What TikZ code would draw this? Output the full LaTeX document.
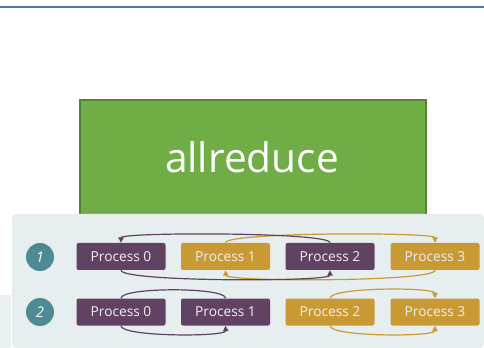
\documentclass[tikz,border=0pt]{standalone}
\usepackage{fontspec}
\setmainfont{Open Sans}
\usepackage{tikz}
\usetikzlibrary{arrows.meta}
\usepackage{xcolor}

\definecolor{procpurple}{RGB}{97,66,99}
\definecolor{procgold}{RGB}{201,154,52}
\definecolor{numteal}{RGB}{78,138,147}
\definecolor{panelgray}{RGB}{230,238,240}
\definecolor{boxgreen}{RGB}{112,173,71}
\definecolor{boxgreenline}{RGB}{84,130,53}
\definecolor{ruleblue}{RGB}{74,120,168}

\tikzset{
  proc/.style={rectangle, rounded corners=1.5pt, minimum width=66.75pt, minimum height=20.25pt,
    text=white!94!black, font=\fontsize{10.3}{12}\selectfont, inner sep=0pt},
  procp/.style={proc, fill=procpurple},
  procg/.style={proc, fill=procgold},
  num/.style={circle, fill=numteal, minimum size=21pt, inner sep=0pt,
    text=white, font=\fontsize{11}{12}\selectfont\itshape},
  arcp/.style={draw=procpurple, line width=0.9pt},
  arcg/.style={draw=procgold, line width=0.9pt},
  tip/.style={-{Triangle[length=4pt,width=4pt]}}
}

\begin{document}
\begin{tikzpicture}[x=0.75pt,y=-0.75pt]
\useasboundingbox (0,0) rectangle (484,348);
% top rule and title box
\draw[ruleblue, line width=1.6pt] (0,7) -- (484,7);
\node[rectangle, fill=boxgreen, draw=boxgreenline, line width=1.2pt,
  minimum width=259.5pt, minimum height=97.5pt, anchor=north west, inner sep=0pt] (title) at (79,99) {};
\node[text=white, font=\fontsize{30.5}{32}\selectfont] (titletext) at (252,157) {allreduce};

% light panels
\fill[panelgray!80!white] (0,295) rectangle (11,348);
\fill[panelgray, rounded corners=3pt] (12,348) -- (12,214) -- (484,214) -- (484,348) -- cycle;

% step numbers
\node[num] (n1) at (40,257) {1};
\node[num] (n2) at (40,312) {2};

% row 1
\node[procp] (a0) at (121,256.5) {Process 0};
\node[procg] (a1) at (225.5,256.5) {Process 1};
\node[procp] (a2) at (330,256.5) {Process 2};
\node[procg] (a3) at (435,256.5) {Process 3};

\draw[arcg, tip] (a1.north) .. controls (226,232) and (435,232) .. (a3.north);
\draw[arcg, tip] (a3.south) .. controls (435,282) and (226,282) .. (a1.south);
\draw[arcp, tip] (a2.north) .. controls (330,232) and (121,232) .. (a0.north);
\draw[arcp, tip] (a0.south) .. controls (121,282) and (330,282) .. (a2.south);

% row 2
\node[procp] (b0) at (121,312) {Process 0};
\node[procp] (b1) at (225.5,312) {Process 1};
\node[procg] (b2) at (330,312) {Process 2};
\node[procg] (b3) at (435,312) {Process 3};

\draw[arcp] (b0.north) .. controls (121,287) and (226,287) .. (b1.north);
\draw[arcp, tip] (b0.south) .. controls (121,337) and (226,337) .. (b1.south);
\draw[arcg, tip] (b2.north) .. controls (330,287) and (435,287) .. (b3.north);
\draw[arcg, tip] (b2.south) .. controls (330,337) and (435,337) .. (b3.south);
\end{tikzpicture}
\end{document}
